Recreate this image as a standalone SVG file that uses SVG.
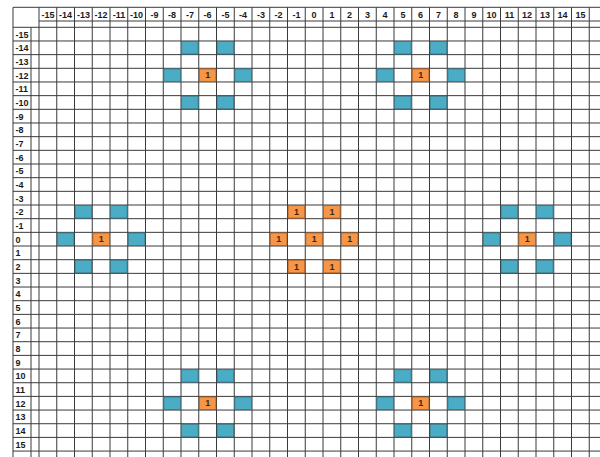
<svg xmlns="http://www.w3.org/2000/svg" width="600" height="457" viewBox="0 0 600 457">
<style>
.bg{fill:#fff}
.grid{fill:none;stroke:#3a3a3a;stroke-width:1}
.hd{font-family:"Liberation Sans",Arial,sans-serif;font-size:9px;font-weight:bold;fill:#1a1a1a}
.ch{text-anchor:middle}
.b{fill:#4BACC6;stroke:#2f6f80;stroke-width:0.8}
.o{fill:#F79646;stroke:#a8581c;stroke-width:0.8}
.v{font-family:"Liberation Sans",Arial,sans-serif;font-size:9px;font-weight:bold;fill:#3a2a1a;text-anchor:middle}
</style>
<defs>
<rect id="cell" x="0.6" y="0.6" width="16.55" height="12.47"/>
</defs>
<rect class="bg" x="0" y="0" width="600" height="457"/>
<g id="connectors">
<path class="grid" d="M13 7.3V457M31 27.3V457M39 7.3V457M56.75 7.3V457M74.5 7.3V457M92.25 7.3V457M110 7.3V457M127.75 7.3V457M145.5 7.3V457M163.25 7.3V457M181 7.3V457M198.75 7.3V457M216.5 7.3V457M234.25 7.3V457M252 7.3V457M269.75 7.3V457M287.5 7.3V457M305.25 7.3V457M323 7.3V457M340.75 7.3V457M358.5 7.3V457M376.25 7.3V457M394 7.3V457M411.75 7.3V457M429.5 7.3V457M447.25 7.3V457M465 7.3V457M482.75 7.3V457M500.5 7.3V457M518.25 7.3V457M536 7.3V457M553.75 7.3V457M571.5 7.3V457M589.25 7.3V457
M13 7.3H600M39 21H600M13 27.3H600M13 40.97H600M13 54.64H600M13 68.31H600M13 81.98H600M13 95.65H600M13 109.32H600M13 122.99H600M13 136.66H600M13 150.33H600M13 164H600M13 177.67H600M13 191.34H600M13 205.01H600M13 218.68H600M13 232.35H600M13 246.02H600M13 259.69H600M13 273.36H600M13 287.03H600M13 300.7H600M13 314.37H600M13 328.04H600M13 341.71H600M13 355.38H600M13 369.05H600M13 382.72H600M13 396.39H600M13 410.06H600M13 423.73H600M13 437.4H600M13 451.07H600"/>
</g>
<g id="col-headers" class="hd ch">
<text x="47.9" y="18">-15</text><text x="65.6" y="18">-14</text><text x="83.4" y="18">-13</text><text x="101.1" y="18">-12</text><text x="118.9" y="18">-11</text><text x="136.6" y="18">-10</text><text x="154.4" y="18">-9</text><text x="172.1" y="18">-8</text><text x="189.9" y="18">-7</text><text x="207.6" y="18">-6</text><text x="225.4" y="18">-5</text><text x="243.1" y="18">-4</text><text x="260.9" y="18">-3</text><text x="278.6" y="18">-2</text><text x="296.4" y="18">-1</text><text x="314.1" y="18">0</text><text x="331.9" y="18">1</text><text x="349.6" y="18">2</text><text x="367.4" y="18">3</text><text x="385.1" y="18">4</text><text x="402.9" y="18">5</text><text x="420.6" y="18">6</text><text x="438.4" y="18">7</text><text x="456.1" y="18">8</text><text x="473.9" y="18">9</text><text x="491.6" y="18">10</text><text x="509.4" y="18">11</text><text x="527.1" y="18">12</text><text x="544.9" y="18">13</text><text x="562.6" y="18">14</text><text x="580.4" y="18">15</text>
</g>
<g id="row-headers" class="hd">
<text x="15.5" y="37.6">-15</text><text x="15.5" y="51.3">-14</text><text x="15.5" y="64.9">-13</text><text x="15.5" y="78.6">-12</text><text x="15.5" y="92.3">-11</text><text x="15.5" y="106">-10</text><text x="15.5" y="119.6">-9</text><text x="15.5" y="133.3">-8</text><text x="15.5" y="147">-7</text><text x="15.5" y="160.6">-6</text><text x="15.5" y="174.3">-5</text><text x="15.5" y="188">-4</text><text x="15.5" y="201.6">-3</text><text x="15.5" y="215.3">-2</text><text x="15.5" y="229">-1</text><text x="15.5" y="242.7">0</text><text x="15.5" y="256.3">1</text><text x="15.5" y="270">2</text><text x="15.5" y="283.7">3</text><text x="15.5" y="297.3">4</text><text x="15.5" y="311">5</text><text x="15.5" y="324.7">6</text><text x="15.5" y="338.3">7</text><text x="15.5" y="352">8</text><text x="15.5" y="365.7">9</text><text x="15.5" y="379.4">10</text><text x="15.5" y="393">11</text><text x="15.5" y="406.7">12</text><text x="15.5" y="420.4">13</text><text x="15.5" y="434">14</text><text x="15.5" y="447.7">15</text>
</g>
<!-- top-left cluster -->
<g id="tl-n1" transform="translate(181,40.97)"><use href="#cell" class="b"/></g>
<g id="tl-n2" transform="translate(216.5,40.97)"><use href="#cell" class="b"/></g>
<g id="tl-w" transform="translate(163.25,68.31)"><use href="#cell" class="b"/></g>
<g id="tl-e" transform="translate(234.25,68.31)"><use href="#cell" class="b"/></g>
<g id="tl-s1" transform="translate(181,95.65)"><use href="#cell" class="b"/></g>
<g id="tl-s2" transform="translate(216.5,95.65)"><use href="#cell" class="b"/></g>
<g id="tl-c" transform="translate(198.75,68.31)"><use href="#cell" class="o"/><text class="v" x="8.9" y="10">1</text></g>
<!-- top-right cluster -->
<g id="tr-n1" transform="translate(394,40.97)"><use href="#cell" class="b"/></g>
<g id="tr-n2" transform="translate(429.5,40.97)"><use href="#cell" class="b"/></g>
<g id="tr-w" transform="translate(376.25,68.31)"><use href="#cell" class="b"/></g>
<g id="tr-e" transform="translate(447.25,68.31)"><use href="#cell" class="b"/></g>
<g id="tr-s1" transform="translate(394,95.65)"><use href="#cell" class="b"/></g>
<g id="tr-s2" transform="translate(429.5,95.65)"><use href="#cell" class="b"/></g>
<g id="tr-c" transform="translate(411.75,68.31)"><use href="#cell" class="o"/><text class="v" x="8.9" y="10">1</text></g>
<!-- middle-left cluster -->
<g id="ml-n1" transform="translate(74.5,205.01)"><use href="#cell" class="b"/></g>
<g id="ml-n2" transform="translate(110,205.01)"><use href="#cell" class="b"/></g>
<g id="ml-w" transform="translate(56.75,232.35)"><use href="#cell" class="b"/></g>
<g id="ml-e" transform="translate(127.75,232.35)"><use href="#cell" class="b"/></g>
<g id="ml-s1" transform="translate(74.5,259.69)"><use href="#cell" class="b"/></g>
<g id="ml-s2" transform="translate(110,259.69)"><use href="#cell" class="b"/></g>
<g id="ml-c" transform="translate(92.25,232.35)"><use href="#cell" class="o"/><text class="v" x="8.9" y="10">1</text></g>
<!-- middle-right cluster -->
<g id="mr-n1" transform="translate(500.5,205.01)"><use href="#cell" class="b"/></g>
<g id="mr-n2" transform="translate(536,205.01)"><use href="#cell" class="b"/></g>
<g id="mr-w" transform="translate(482.75,232.35)"><use href="#cell" class="b"/></g>
<g id="mr-e" transform="translate(553.75,232.35)"><use href="#cell" class="b"/></g>
<g id="mr-s1" transform="translate(500.5,259.69)"><use href="#cell" class="b"/></g>
<g id="mr-s2" transform="translate(536,259.69)"><use href="#cell" class="b"/></g>
<g id="mr-c" transform="translate(518.25,232.35)"><use href="#cell" class="o"/><text class="v" x="8.9" y="10">1</text></g>
<!-- centre cluster -->
<g id="c-n1" transform="translate(287.5,205.01)"><use href="#cell" class="o"/><text class="v" x="8.9" y="10">1</text></g>
<g id="c-n2" transform="translate(323,205.01)"><use href="#cell" class="o"/><text class="v" x="8.9" y="10">1</text></g>
<g id="c-w" transform="translate(269.75,232.35)"><use href="#cell" class="o"/><text class="v" x="8.9" y="10">1</text></g>
<g id="c-c" transform="translate(305.25,232.35)"><use href="#cell" class="o"/><text class="v" x="8.9" y="10">1</text></g>
<g id="c-e" transform="translate(340.75,232.35)"><use href="#cell" class="o"/><text class="v" x="8.9" y="10">1</text></g>
<g id="c-s1" transform="translate(287.5,259.69)"><use href="#cell" class="o"/><text class="v" x="8.9" y="10">1</text></g>
<g id="c-s2" transform="translate(323,259.69)"><use href="#cell" class="o"/><text class="v" x="8.9" y="10">1</text></g>
<!-- bottom-left cluster -->
<g id="bl-n1" transform="translate(181,369.05)"><use href="#cell" class="b"/></g>
<g id="bl-n2" transform="translate(216.5,369.05)"><use href="#cell" class="b"/></g>
<g id="bl-w" transform="translate(163.25,396.39)"><use href="#cell" class="b"/></g>
<g id="bl-e" transform="translate(234.25,396.39)"><use href="#cell" class="b"/></g>
<g id="bl-s1" transform="translate(181,423.73)"><use href="#cell" class="b"/></g>
<g id="bl-s2" transform="translate(216.5,423.73)"><use href="#cell" class="b"/></g>
<g id="bl-c" transform="translate(198.75,396.39)"><use href="#cell" class="o"/><text class="v" x="8.9" y="10">1</text></g>
<!-- bottom-right cluster -->
<g id="br-n1" transform="translate(394,369.05)"><use href="#cell" class="b"/></g>
<g id="br-n2" transform="translate(429.5,369.05)"><use href="#cell" class="b"/></g>
<g id="br-w" transform="translate(376.25,396.39)"><use href="#cell" class="b"/></g>
<g id="br-e" transform="translate(447.25,396.39)"><use href="#cell" class="b"/></g>
<g id="br-s1" transform="translate(394,423.73)"><use href="#cell" class="b"/></g>
<g id="br-s2" transform="translate(429.5,423.73)"><use href="#cell" class="b"/></g>
<g id="br-c" transform="translate(411.75,396.39)"><use href="#cell" class="o"/><text class="v" x="8.9" y="10">1</text></g>
</svg>
